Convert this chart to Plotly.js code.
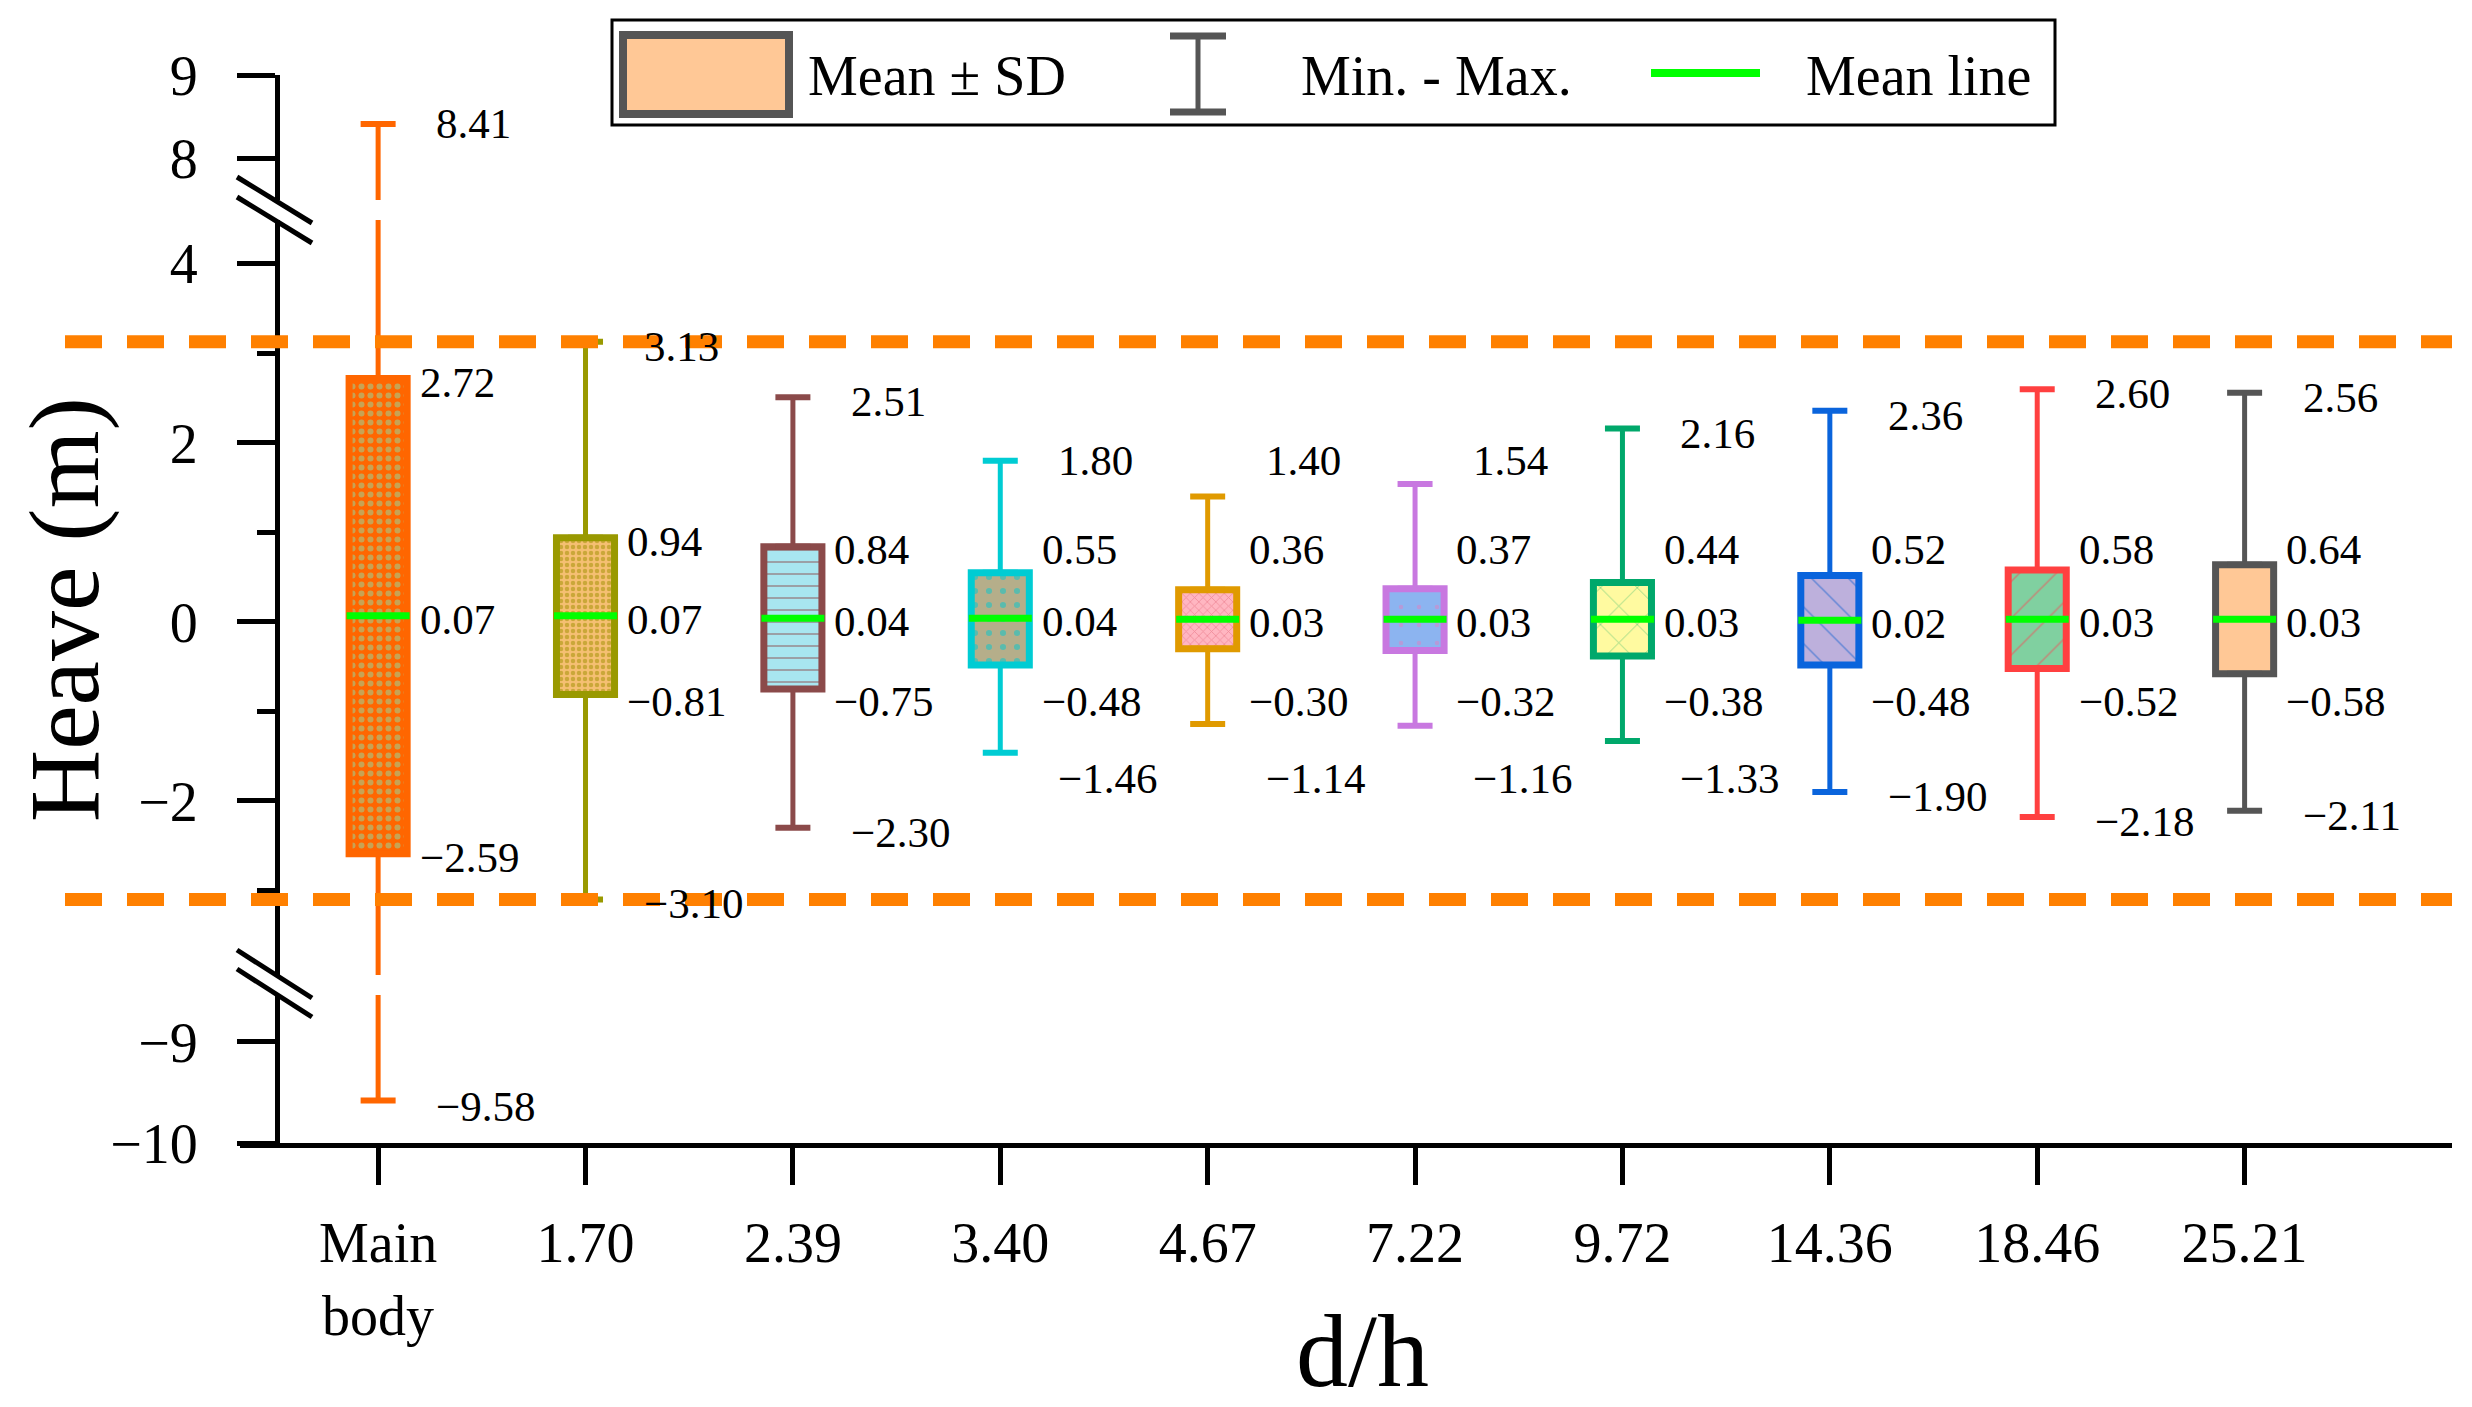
<!DOCTYPE html>
<html>
<head>
<meta charset="utf-8">
<script src="https://cdn.plot.ly/plotly-3.0.1.min.js"></script>
<style>
  html, body { margin: 0; padding: 0; background: #fff; }
  #chart { width: 2472px; height: 1407px; }
</style>
</head>
<body>
<div id="chart"></div>
<script>
// d/h cases, Main body first
const categories = ["Main<br>body", "1.70", "2.39", "3.40", "4.67", "7.22", "9.72", "14.36", "18.46", "25.21"];
const maxVals   = [8.41, 3.13, 2.51, 1.80, 1.40, 1.54, 2.16, 2.36, 2.60, 2.56];
const upperVals = [2.72, 0.94, 0.84, 0.55, 0.36, 0.37, 0.44, 0.52, 0.58, 0.64];
const meanVals  = [0.07, 0.07, 0.04, 0.04, 0.03, 0.03, 0.03, 0.02, 0.03, 0.03];
const lowerVals = [-2.59, -0.81, -0.75, -0.48, -0.30, -0.32, -0.38, -0.48, -0.52, -0.58];
const minVals   = [-9.58, -3.10, -2.30, -1.46, -1.14, -1.16, -1.33, -1.90, -2.18, -2.11];

// dashed limits = range of the 1.70 case
const limitLines = [maxVals[1], minVals[1]];

const lineColors = ["#FF6600", "#999900", "#8B4A4A", "#00CCD3", "#E09A00",
                    "#C878E0", "#00A86B", "#0A64DC", "#FF4040", "#555555"];
const fillColors = ["#FF6600", "#F5BF72", "#A8E6F0", "#B5AE8A", "#FFB6C1",
                    "#8CB4F0", "#FFFAA0", "#BDB0DC", "#80D0A0", "#FFC896"];
const patternColors = ["#8FE0A8", "#A09000", "#8B4A4A", "#00C8D0", "#E06070",
                       "#E080C0", "#00A860", "#1060D0", "#FF4050", "#FFC896"];
const patternShapes = [".", ".", "-", ".", "x", ".", "x", "\\", "/", ""];
const patternSizes  = [9, 6, 12, 14, 6, 18, 26, 26, 26, 8];
const patternSolid  = [0.35, 0.45, 0.15, 0.15, 0.25, 0.05, 0.06, 0.06, 0.06, 0.3];

const FONT = "Liberation Serif, Times New Roman, serif";

// plot area in pixels, used for paper positions of decorations
const L = 240, R = 2452, T = 75, B = 1143;
const px = X => (X - L) / (R - L);
const py = Y => (B - Y) / (B - T);

const xs = categories.map((c, i) => i);
const fmt = v => v.toFixed(2).replace("-", "\u2212");

const traces = [];

// Mean ± SD boxes, one trace each so every pattern gets its own colours
xs.forEach(i => {
  traces.push({
    type: "bar",
    x: [i],
    base: [lowerVals[i]],
    y: [upperVals[i] - lowerVals[i]],
    width: 0.28,
    xaxis: "x", yaxis: "y",
    marker: {
      color: fillColors[i],
      line: { color: lineColors[i], width: 7 },
      pattern: {
        shape: patternShapes[i],
        fgcolor: patternColors[i],
        bgcolor: fillColors[i],
        size: patternSizes[i],
        solidity: patternSolid[i],
        fillmode: "overlay"
      }
    },
    hoverinfo: "skip",
    showlegend: false
  });
});

// whiskers on each of the three y segments, clipped by the axis ranges
["y", "y2", "y3"].forEach(ax => {
  xs.forEach(i => {
    traces.push({
      type: "scatter",
      mode: "lines+markers",
      x: [i, i, null, i, i],
      y: [maxVals[i], upperVals[i], null, lowerVals[i], minVals[i]],
      xaxis: "x", yaxis: ax,
      line: { color: lineColors[i], width: 5 },
      marker: { symbol: "line-ew", size: 25, line: { color: lineColors[i], width: 6 } },
      hoverinfo: "skip",
      showlegend: false
    });
  });
});

// mean lines
traces.push({
  type: "scatter",
  mode: "markers",
  x: xs,
  y: meanVals,
  xaxis: "x", yaxis: "y",
  marker: { symbol: "line-ew", size: 45, line: { color: "#00FF00", width: 7 } },
  hoverinfo: "skip",
  showlegend: false
});

// value labels
const midRange = [-3.944, 4.49];
const axisFor = v => v > midRange[1] ? "y2" : (v < midRange[0] ? "y3" : "y");
const annotations = [];
const addLabel = (i, v, yPos, dx) => {
  annotations.push({
    x: i + dx, y: yPos, xref: "x", yref: axisFor(v),
    text: fmt(v), showarrow: false, xanchor: "left", yanchor: "middle",
    font: { family: FONT, size: 43, color: "#000" }
  });
};
xs.forEach(i => {
  const mx = maxVals[i], mn = minVals[i];
  addLabel(i, mx, axisFor(mx) === "y" ? Math.max(mx, 1.85) - 0.05 : mx, 0.27);
  addLabel(i, mn, axisFor(mn) === "y" ? Math.min(mn, -1.7) - 0.05 : mn - 0.06, 0.27);
  addLabel(i, upperVals[i], Math.max(upperVals[i], 0.85) - 0.04, 0.19);
  addLabel(i, meanVals[i], meanVals[i] - 0.04, 0.19);
  addLabel(i, lowerVals[i], Math.min(lowerVals[i], -0.85) - 0.04, 0.19);
});

// axis titles
annotations.push({
  x: px(64), y: py(610), xref: "paper", yref: "paper", text: "Heave (m)",
  textangle: -90, showarrow: false, xanchor: "center", yanchor: "middle",
  font: { family: FONT, size: 100, color: "#000" }
});
annotations.push({
  x: px(1362), y: py(1350), xref: "paper", yref: "paper", text: "d/h",
  showarrow: false, xanchor: "center", yanchor: "middle",
  font: { family: FONT, size: 104, color: "#000" }
});

// legend text
[["Mean \u00B1 SD", 806], ["Min. - Max.", 1299], ["Mean line", 1804]].forEach(([t, X]) => {
  annotations.push({
    x: px(X), y: py(76), xref: "paper", yref: "paper", text: t,
    showarrow: false, xanchor: "left", yanchor: "middle",
    font: { family: FONT, size: 56, color: "#000" }
  });
});

const shapes = [];
// dashed limit lines
limitLines.forEach(v => {
  shapes.push({
    type: "line", xref: "paper", yref: "y", x0: px(65), x1: 1, y0: v, y1: v,
    line: { color: "#FF8000", width: 13, dash: "37px,25px" }, layer: "above"
  });
});
// axis break marks
[[177, 197], [950, 969]].forEach(pair => {
  pair.forEach(Y => {
    shapes.push({
      type: "line", xref: "paper", yref: "paper",
      x0: px(237), y0: py(Y), x1: px(312), y1: py(Y + (Y < 500 ? 46 : 48)),
      line: { color: "#000", width: 5 }, layer: "above"
    });
  });
});
// legend frame and keys
shapes.push({
  type: "rect", xref: "paper", yref: "paper",
  x0: px(612), x1: px(2055), y0: py(20), y1: py(125),
  line: { color: "#000", width: 3 }, fillcolor: "#fff", layer: "above"
});
shapes.push({
  type: "rect", xref: "paper", yref: "paper",
  x0: px(623), x1: px(789), y0: py(35), y1: py(114),
  line: { color: "#555", width: 8 }, fillcolor: fillColors[9], layer: "above"
});
shapes.push({
  type: "line", xref: "paper", yref: "paper",
  x0: px(1198), x1: px(1198), y0: py(36), y1: py(112),
  line: { color: "#555", width: 5 }, layer: "above"
});
[36, 112].forEach(Y => shapes.push({
  type: "line", xref: "paper", yref: "paper",
  x0: px(1170), x1: px(1226), y0: py(Y), y1: py(Y),
  line: { color: "#555", width: 7 }, layer: "above"
}));
shapes.push({
  type: "line", xref: "paper", yref: "paper",
  x0: px(1651), x1: px(1760), y0: py(73), y1: py(73),
  line: { color: "#00FF00", width: 8 }, layer: "above"
});

const yCommon = {
  anchor: "free", position: px(277),
  showline: true, linecolor: "#000", linewidth: 5,
  ticks: "outside", ticklen: 38, tickwidth: 5, tickcolor: "#000",
  tickfont: { family: FONT, size: 56, color: "#000" },
  ticklabelstandoff: 28,
  showgrid: false, zeroline: false, fixedrange: true
};

const layout = {
  width: 2472, height: 1407,
  margin: { l: L, r: 2472 - R, t: T, b: 1407 - B },
  paper_bgcolor: "#fff", plot_bgcolor: "#fff",
  showlegend: false,
  barmode: "overlay",
  font: { family: FONT, color: "#000" },
  xaxis: {
    range: [-0.666, 10.0], tickmode: "array", tickvals: xs, ticktext: categories,
    anchor: "y3", showline: true, linecolor: "#000", linewidth: 5,
    ticks: "outside", ticklen: 37, tickwidth: 5, tickcolor: "#000",
    tickfont: { family: FONT, size: 56, color: "#000" },
    ticklabelstandoff: 10,
    showgrid: false, zeroline: false, fixedrange: true
  },
  yaxis: Object.assign({}, yCommon, {
    domain: [py(975), py(220)], range: midRange,
    tickmode: "linear", tick0: 0, dtick: 2,
    minor: { tickmode: "linear", tick0: 0, dtick: 1, ticks: "outside", ticklen: 18, tickwidth: 5, tickcolor: "#000" }
  }),
  yaxis2: Object.assign({}, yCommon, {
    domain: [py(200), 1], range: [7.494, 9], tickmode: "array", tickvals: [8, 9]
  }),
  yaxis3: Object.assign({}, yCommon, {
    domain: [0, py(995)], range: [-10, -8.535], tickmode: "array", tickvals: [-10, -9]
  }),
  shapes: shapes,
  annotations: annotations
};

Plotly.newPlot("chart", traces, layout, { displayModeBar: false, responsive: false });
</script>
</body>
</html>
